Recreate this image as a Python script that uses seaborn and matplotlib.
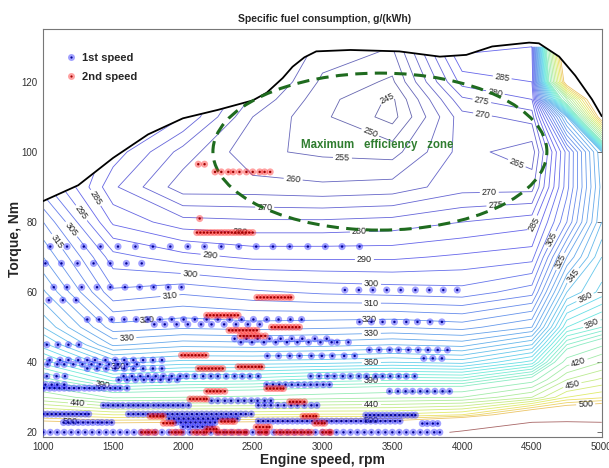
import numpy as np
import pandas as pd
import seaborn as sns
import matplotlib.pyplot as plt
from matplotlib.colors import ListedColormap, Normalize
from matplotlib.patches import Ellipse
from matplotlib.path import Path
from matplotlib.lines import Line2D
from matplotlib.legend_handler import HandlerTuple

sns.set_style("white")
plt.rcParams['font.family'] = ['Liberation Sans', 'DejaVu Sans']

# specific fuel consumption map, g/kWh (rows = torque, cols = engine speed)
map_rpm = [1000, 1500, 2000, 2500, 3000, 3500, 4000, 4500, 4750, 5000]
map_torque = [20, 25, 30, 35, 40, 45, 50, 60, 70, 80, 90, 100, 110, 115, 120, 130]
bsfc = [
    [540, 535, 540, 545, 550, 555, 610, 700, 700, 680],
    [478, 470, 470, 470, 472, 472, 480, 525, 535, 540],
    [430, 408, 410, 412, 415, 418, 420, 440, 470, 478],
    [398, 378, 382, 383, 387, 389, 388, 405, 440, 452],
    [378, 353, 357, 357, 358, 360, 358, 372, 415, 430],
    [362, 334, 338, 337, 338, 340, 338, 350, 395, 408],
    [350, 322, 324, 323, 324, 325, 323, 330, 375, 385],
    [336, 306, 309, 306, 304, 303, 302, 308, 350, 362],
    [325, 297, 292, 289, 289, 289, 291, 293, 330, 355],
    [315, 284, 277, 276, 276, 277, 280, 283, 310, 345],
    [302, 276, 262, 262, 261, 262, 268, 268, 303, 342],
    [296, 283, 268, 256, 254, 253, 267, 262, 302, 345],
    [295, 285, 280, 260, 251, 243, 268, 272, 340, 520],
    [295, 285, 282, 264, 252, 244, 274, 280, 420, 560],
    [295, 285, 283, 268, 254, 249, 282, 285, 520, 580],
    [295, 285, 285, 272, 258, 255, 292, 290, 560, 590],
]

# full-load (max torque) curve
bound_rpm = [1000, 1250, 1500, 1750, 2000, 2250, 2500, 2600, 2715, 2785, 2870, 2955,
             3200, 3550, 3840, 4030, 4215, 4480, 4550, 4695, 4810, 4930, 5000]
bound_torque = [86, 90.5, 98.3, 105, 109.6, 112, 114.7, 116.9, 121.1, 124.3, 127, 128.7,
                129.1, 128.7, 127.2, 127.7, 130.1, 131.2, 131, 127.2, 121.8, 115, 110.2]

# operating points, 1st speed
first_torque = [73.0, 68.2, 61.4, 60.6, 57.7, 52.2, 50.8, 51.5, 45.0, 46.7, 45.7, 43.5,
                41.1, 41.8, 40.6, 39.4, 38.2, 36.0, 35.0, 33.6, 32.6, 31.7, 29.0, 27.7,
                25.2, 24.9, 23.9, 23.2, 22.8, 22.5, 21.6, 20.0]
first_rpm = [
    [1050, 1170, 1290, 1410, 1535, 1660, 1785, 1910, 2035, 2155, 2275, 2400, 2525, 2645, 2765, 2895, 3020, 3140, 3265],
    [1015, 1130, 1245, 1360, 1480, 1595, 1705],
    [1075, 1170, 1275, 1385, 1480, 1585, 1690, 1790, 1895, 1990],
    [3160, 3260, 3360, 3460, 3560, 3665, 3765, 3865, 3965],
    [1040, 1140, 1235],
    [1315, 1400, 1490, 1580, 1665, 1750, 1835, 1920, 2005, 2085, 2170, 2250, 2335, 2420, 2505, 2600, 2685, 2770, 2850],
    [1795, 1870, 1955, 2035, 2130, 2205, 2295, 2380, 2465, 2550],
    [3265, 3350, 3430, 3515, 3600, 3680, 3770, 3855],
    [1025, 1105, 1180, 1255],
    [2370, 2455, 2535, 2620, 2700, 2780, 2855, 2945, 3030],
    [2415, 2495, 2580, 2665, 2745, 2820, 2900, 2985, 3065, 3105, 3185],
    [3335, 3405, 3480, 3545, 3615, 3685, 3755, 3825, 3895],
    [3725, 3790, 3855],
    [2605, 2685, 2765, 2835, 2920, 2995, 3070, 3155, 3230],
    [1045, 1120, 1180, 1250, 1315, 1370, 1445, 1515, 1580, 1645, 1715, 1785, 1850],
    [1030, 1100, 1150, 1215, 1280, 1345, 1405, 1470, 1535, 1600, 1670],
    [1315, 1385, 1450, 1515, 1580, 1645, 1715, 1785, 1850],
    [1025, 1095, 1155, 1575, 1635, 1695, 1750, 1805, 1860, 1920, 1980, 2025, 2085, 2145, 2200, 2250,
     2310, 2370, 2425, 2480, 2540, 2915, 2975, 3035, 3085, 3145, 3200, 3260, 3315, 3380, 3430, 3485,
     3545, 3600, 3660],
    [1540, 1600, 1660, 1720, 1780, 1840, 1900, 1960],
    [1015, 1060, 1100, 1150, 2600, 2645, 2690, 2735, 2780, 2825, 2870, 2915, 2960, 3005, 3050],
    [1005, 1045, 1080, 1115, 1150, 1185, 1220, 1255, 1295, 1330, 1365, 1400, 1435, 1480, 1515, 1550, 1600],
    [3480, 3540, 3595, 3645, 3700, 3750, 3805, 3860, 3910],
    [2205, 2250, 2300, 2345, 2395, 2440, 2490, 2535, 2585, 2630],
    [1430, 1465, 1500, 1535, 1570, 1610, 1645, 1680, 1715, 1750, 1790, 1825, 1860, 1895, 1930, 1965,
     2000, 2040, 2540, 2585, 2630, 2680, 2725, 2775, 2820, 2870, 2920, 2960],
    [1000, 1030, 1060, 1090, 1120, 1150, 1180, 1210, 1240, 1270, 1300, 1325, 1610, 1645, 1680, 1715,
     1750, 1785, 1820, 1855, 1890, 1925, 1960, 1995, 2030, 2065, 2100, 2135, 2170, 2205, 2240, 2275,
     2310, 2345, 2380, 2415, 2450, 2490],
    [3310, 3340, 3370, 3400, 3430, 3460, 3490, 3520, 3550, 3580, 3610, 3640, 3665],
    [1900, 1935, 1970, 2005, 2040, 2075, 2110, 2145, 2180, 2215, 2250, 2285, 2320, 2355, 2390],
    [2540, 2575, 2610, 2645, 2680, 2715, 2750, 2785, 2820, 2855, 2890, 2925, 2960, 2995, 3030, 3065,
     3100, 3135, 3170, 3205, 3240, 3275, 3310, 3345, 3380, 3415, 3450, 3485, 3520, 3555],
    [1145, 1180, 1215, 1250, 1285, 1320, 1355, 1390, 1420, 1455, 1490, 1950, 1985, 2020, 2055, 2090,
     2125, 2160, 2195, 2230],
    [3715, 3750, 3790, 3825],
    [2000, 2035, 2070, 2105, 2140, 2175, 2210],
    [1000, 1050, 1100, 1150, 1200, 1250, 1300, 1350, 1400, 1450, 1500, 1550, 1600, 1650, 1700, 1750,
     1800, 1850, 1900, 1950, 2000, 2050, 2100, 2150, 2200, 2250, 2300, 2350, 2400, 2450, 2500, 2550,
     2600, 2650, 2700, 2750, 2800, 2850, 2900, 2950, 3000, 3050, 3100, 3150, 3200, 3250, 3300, 3350,
     3400, 3450, 3500, 3550, 3600, 3650, 3700, 3750, 3800, 3840],
]

# operating points, 2nd speed
second_torque = [96.5, 94.3, 81.0, 77.0, 58.5, 53.4, 50.0, 49.1, 47.5, 42.0, 38.2, 38.7,
                 32.5, 31.7, 29.5, 28.7, 24.6, 23.1, 22.6, 21.5, 20.9, 20.0]
second_rpm = [
    [2110, 2155],
    [2230, 2275, 2325, 2360, 2405, 2455, 2500, 2550, 2585, 2625],
    [2120],
    [2100, 2125, 2150, 2175, 2200, 2225, 2250, 2275, 2300, 2325, 2350, 2375, 2400, 2425, 2450, 2475, 2500],
    [2530, 2555, 2580, 2605, 2630, 2655, 2680, 2705, 2730, 2755, 2775],
    [2170, 2195, 2220, 2245, 2270, 2295, 2320, 2345, 2370, 2395],
    [2635, 2660, 2685, 2710, 2735, 2760, 2785, 2810, 2835],
    [2330, 2355, 2380, 2405, 2430, 2455, 2480, 2505, 2530],
    [2410, 2435, 2460, 2485, 2510, 2535, 2560, 2590],
    [1990, 2015, 2040, 2065, 2090, 2115, 2140, 2165],
    [2110, 2135, 2160, 2185, 2210, 2235, 2260, 2285],
    [2395, 2420, 2445, 2470, 2495, 2520, 2545, 2565],
    [2600, 2625, 2650, 2675, 2700, 2720],
    [2170, 2195, 2220, 2245, 2270, 2300],
    [2050, 2075, 2100, 2125, 2150, 2170],
    [2765, 2790, 2815, 2840, 2870],
    [1765, 1790, 1815, 1840, 1860, 2860, 2885, 2910, 2935, 2955],
    [2275, 2300, 2325, 2350, 2370],
    [1860, 1885, 1910, 1930, 2945, 2970, 2995, 3015],
    [2525, 2550, 2575, 2600, 2620],
    [2170, 2195, 2220, 2240],
    [1705, 1730, 1755, 1780, 1805, 1920, 1945, 1970, 1990, 2075, 2100, 2125, 2150, 2170, 2240, 2265,
     2290, 2315, 2340, 2365, 2390, 2415, 2440, 2455, 2540, 2565, 2590, 2600, 2670, 2695, 2720, 2745,
     2770, 2795, 2820, 2845, 2870, 2895, 2920, 3000, 3025, 3050, 3060],
]

levels = list(range(245, 405, 5)) + list(range(410, 510, 10)) + [600]

# where the contour labels sit (value, rpm, torque)
label_spots = [
    (315, 1086, 74), (305, 1193, 77.7), (295, 1286, 83), (285, 1407, 87.7),
    (280, 2407, 77), (270, 2586, 84.3), (260, 2786, 90.6), (255, 3143, 98.6),
    (250, 3357, 107), (245, 3450, 116.5), (280, 3264, 77.7), (265, 4393, 96.9),
    (270, 4193, 92), (275, 4243, 84), (270, 4143, 110), (275, 4143, 115),
    (280, 4243, 118), (285, 4286, 121), (290, 2193, 70), (290, 3300, 69),
    (300, 2050, 64.3), (300, 3350, 61), (310, 1907, 58.9), (310, 3350, 56),
    (320, 1743, 52), (320, 3336, 51.7), (330, 1600, 46), (330, 3350, 47.7),
    (360, 1536, 38.6), (360, 3350, 39.7), (390, 1421, 32.9), (390, 3350, 34.6),
    (440, 1243, 27.4), (440, 3350, 28.3), (500, 1193, 22.6), (500, 3350, 22.6),
    (285, 4564, 78.6), (305, 4643, 75), (325, 4714, 68.6), (345, 4786, 65),
    (360, 4850, 61), (380, 4929, 51), (420, 4836, 39.7), (450, 4786, 34), (500, 4886, 27),
]

jet = plt.get_cmap('jet')(np.linspace(0, 1, 256))
jet[:, :3] = jet[:, :3] * 0.52 + 0.4
cmap = ListedColormap(jet)

fig = plt.figure(figsize=(6.09, 4.68), dpi=100)
ax = fig.add_axes([0.0711, 0.0669, 0.917, 0.8705])
ax.set_xlim(1000, 5000)
ax.set_ylim(18.75, 135)

cs = ax.contour(map_rpm, map_torque, np.array(bsfc, dtype=float), levels=levels,
                cmap=cmap, norm=Normalize(245, 600), linewidths=0.6, zorder=1)


def snap_to_level(lev, x, y):
    # nearest point (display space) on the contour of the wanted level
    path = cs.get_paths()[levels.index(lev)]
    v = ax.transData.transform(path.vertices)
    codes = path.codes
    p = ax.transData.transform((x, y))
    a, b = v[:-1], v[1:]
    ok = np.ones(len(a), bool) if codes is None else codes[1:] != Path.MOVETO
    ab = b - a
    t = np.clip(((p - a) * ab).sum(1) / np.maximum((ab ** 2).sum(1), 1e-9), 0, 1)
    q = a + ab * t[:, None]
    d = ((q - p) ** 2).sum(1)
    d[~ok] = np.inf
    return tuple(ax.transData.inverted().transform(q[np.argmin(d)]))


spots = [snap_to_level(lev, x, y) for lev, x, y in label_spots]
cs.clabel(manual=spots, inline=True, inline_spacing=2, fontsize=6.5, fmt='%d')
for t in cs.labelTexts:
    t.set_color('#222222')

ax.fill_between(bound_rpm, bound_torque, 140, color='white', lw=0, zorder=2)
ax.plot(bound_rpm, bound_torque, color='black', lw=1.3, zorder=3)

ax.add_patch(Ellipse((3411, 100.1), 2392, 44.8, fill=False, ec='#1f6b1f', lw=2.2,
                     ls=(0, (4, 2.4)), zorder=4))
ax.text(3393, 102, 'Maximum   efficiency   zone', ha='center', va='center',
        color='#2f7d2f', fontsize=8.3, fontweight='bold', zorder=6)

rows = []
for t, speeds in zip(first_torque, first_rpm):
    rows += [(s, t, '1st speed') for s in speeds]
for t, speeds in zip(second_torque, second_rpm):
    rows += [(s, t, '2nd speed') for s in speeds]
pts = pd.DataFrame(rows, columns=['rpm', 'torque', 'gear'])

fill = {'1st speed': '#2020ff', '2nd speed': '#ff2020'}
dot = {'1st speed': '#000090', '2nd speed': '#a00000'}
for g in ['1st speed', '2nd speed']:
    sub = pts[pts.gear == g]
    sns.scatterplot(data=sub, x='rpm', y='torque', color=fill[g], s=26, alpha=0.42,
                    edgecolor='none', ax=ax, zorder=5, legend=False)
    sns.scatterplot(data=sub, x='rpm', y='torque', color=dot[g], s=3,
                    edgecolor='none', ax=ax, zorder=5, legend=False)

handles = []
for g in ['1st speed', '2nd speed']:
    h1 = Line2D([], [], ls='none', marker='o', ms=5, mfc=fill[g], mec='none', alpha=0.42)
    h2 = Line2D([], [], ls='none', marker='o', ms=1.6, mfc=dot[g], mec='none')
    handles.append((h1, h2))
ax.legend(handles, ['1st speed', '2nd speed'], handler_map={tuple: HandlerTuple(ndivide=1)},
          loc='upper left', bbox_to_anchor=(0.03, 0.953), frameon=False, borderaxespad=0,
          labelspacing=0.85, handletextpad=0.4, handlelength=1.2,
          prop={'weight': 'bold', 'size': 8})

ax.set_xlim(1000, 5000)
ax.set_ylim(18.75, 135)
ax.set_xticks(range(1000, 5001, 500))
ax.set_yticks([20, 40, 60, 80, 100, 120])
ax.set_xlabel('')
ax.set_ylabel('')
ax.tick_params(direction='in', top=True, right=True, length=3.5, width=0.6,
               labelsize=7, color='#555555', labelcolor='#333333', pad=4)
for sp in ax.spines.values():
    sp.set_color('#777777')
    sp.set_linewidth(0.8)

fig.text(0.5337, 0.9588, 'Specific fuel consumption, g/(kWh)', ha='center', va='center',
         fontsize=7.5, fontweight='bold')
fig.text(0.530, 0.017, 'Engine speed, rpm', ha='center', va='center',
         fontsize=10, fontweight='bold')
fig.text(0.0246, 0.49, 'Torque, Nm', ha='center', va='center', rotation=90,
         fontsize=10, fontweight='bold')

fig.savefig('out.png', dpi=100)
